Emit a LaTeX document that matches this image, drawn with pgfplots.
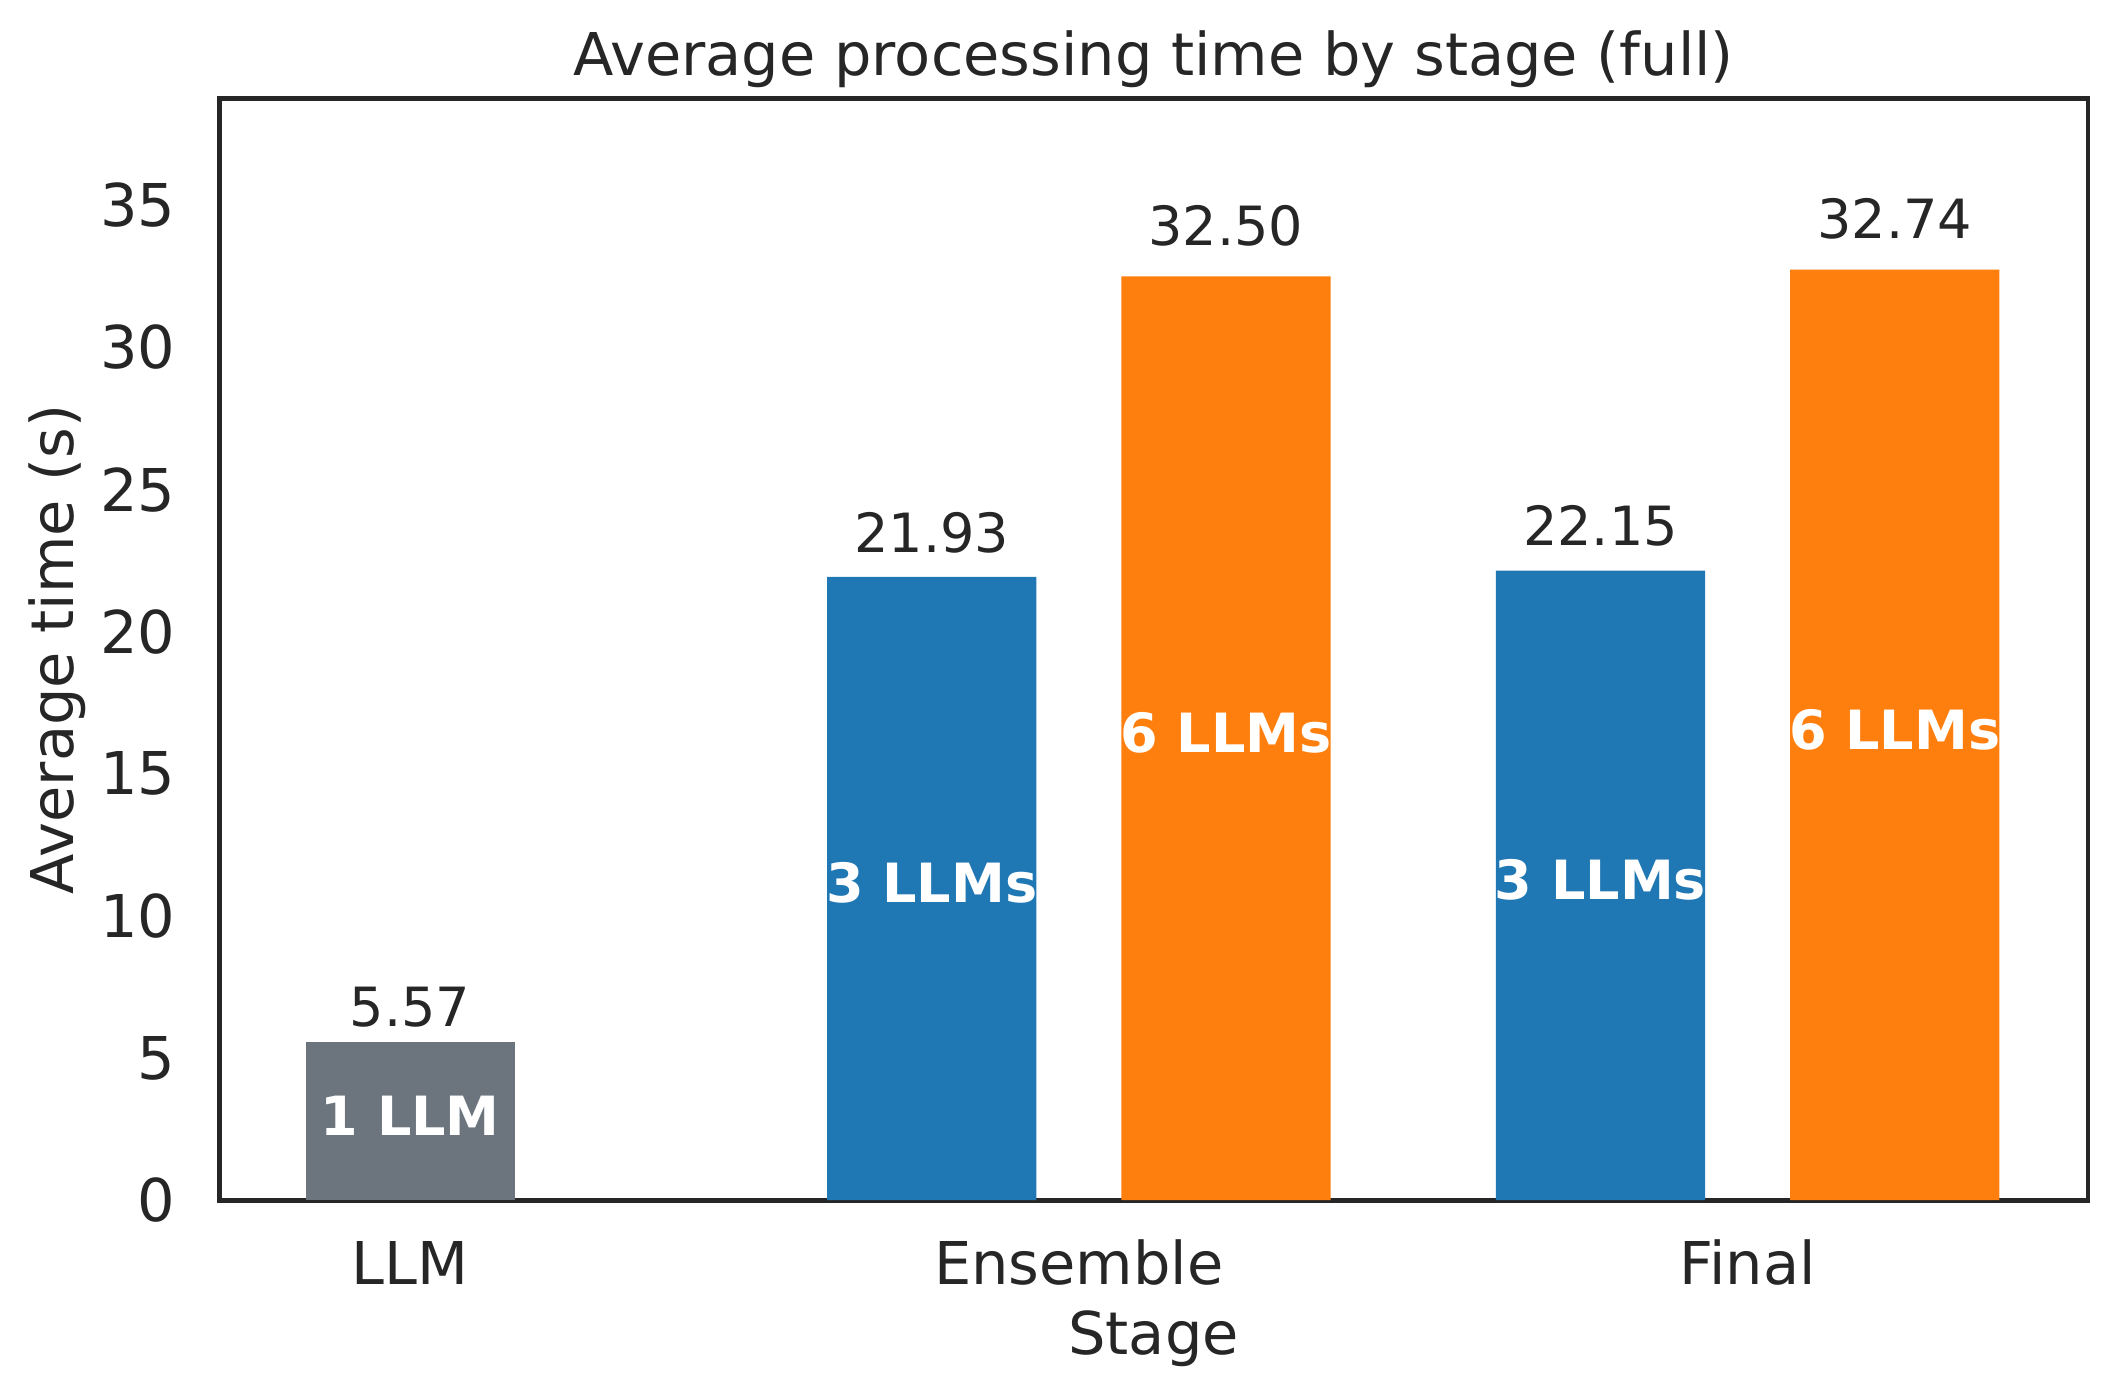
\documentclass[border=0pt]{standalone}
\usepackage{fontspec}
\setmainfont{DejaVu Sans}
\usepackage{pgfplots}
\usepackage{pgfplotstable}
\pgfplotsset{compat=1.18}

\definecolor{llmgray}{HTML}{6C757D}
\definecolor{tabblue}{HTML}{1F77B4}
\definecolor{taborange}{HTML}{FF7F0E}
\definecolor{txt}{HTML}{262626}

% bar position (group at 0,1,2), average time, text inside the bar
\pgfplotstableread[col sep=comma]{
x,y,label
0,5.57,1 LLM
}\llm
\pgfplotstableread[col sep=comma]{
x,y,label
0.78,21.93,3 LLMs
1.78,22.15,3 LLMs
}\three
\pgfplotstableread[col sep=comma]{
x,y,label
1.22,32.50,6 LLMs
2.22,32.74,6 LLMs
}\six

\newcommand{\fbig}{\fontsize{12}{14}\selectfont}
\newcommand{\fmid}{\fontsize{11}{13}\selectfont}

\pgfplotsset{
  valuelabels/.style={draw=none, mark=none, forget plot,
    point meta=\thisrow{y},
    nodes near coords={\pgfmathprintnumber[fixed,fixed zerofill,precision=2]{\pgfplotspointmeta}},
    nodes near coords style={anchor=base, yshift=2.5pt, font=\fmid, text=txt}},
  innerlabels/.style={draw=none, mark=none, forget plot,
    point meta=explicit symbolic,
    nodes near coords={\pgfplotspointmeta},
    nodes near coords style={anchor=center, inner sep=0pt, yshift=1.1pt, font=\fmid\bfseries, text=white}},
}

\begin{document}
\begin{tikzpicture}
\useasboundingbox (-44.6pt,-40.2pt) rectangle (385.4pt,244.1pt);
\begin{axis}[
    at={(0,0)}, anchor=south west,
    width=380.1pt, height=224pt, scale only axis,
    xmin=-0.2855, xmax=2.509,
    ymin=0, ymax=38.75,
    xtick={0,1,2},
    xticklabels={LLM,Ensemble,Final},
    ytick={0,5,...,35},
    major tick length=0pt,
    /pgf/number format/assume math mode=true,
    axis line style={draw=txt, line width=1pt},
    tick label style={font=\fbig, text=txt},
    xticklabel style={anchor=base, yshift=-17.2pt},
    yticklabel style={anchor=east, inner sep=0pt, xshift=-8.7pt},
    every axis title shift=0pt,
    title={Average processing time by stage (full)},
    title style={at={(axis description cs:0.5,1.0214)}, anchor=base, font=\fbig, text=txt},
    xlabel={Stage},
    xlabel style={at={(axis description cs:0.5,-0.1406)}, anchor=base, font=\fbig, text=txt},
    ylabel={Average time (s)},
    ylabel style={at={(axis description cs:-0.0778,0.5)}, anchor=base, font=\fbig, text=txt},
]
\addplot[ybar, bar shift=0pt, bar width=0.3128, fill=llmgray, draw=none] table[x=x,y=y]{\llm};
\addplot[ybar, bar shift=0pt, bar width=0.3128, fill=tabblue, draw=none] table[x=x,y=y]{\three};
\addplot[ybar, bar shift=0pt, bar width=0.3128, fill=taborange, draw=none] table[x=x,y=y]{\six};

\addplot[valuelabels] table[x=x, y expr=\thisrow{y}*1.02]{\llm};
\addplot[valuelabels] table[x=x, y expr=\thisrow{y}*1.02]{\three};
\addplot[valuelabels] table[x=x, y expr=\thisrow{y}*1.02]{\six};

\addplot[innerlabels] table[x=x, y expr=\thisrow{y}/2, meta=label]{\llm};
\addplot[innerlabels] table[x=x, y expr=\thisrow{y}/2, meta=label]{\three};
\addplot[innerlabels] table[x=x, y expr=\thisrow{y}/2, meta=label]{\six};
\end{axis}
\end{tikzpicture}
\end{document}
